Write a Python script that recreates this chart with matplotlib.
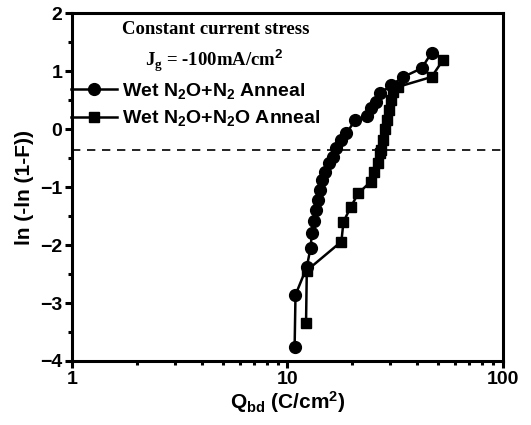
import numpy as np
import matplotlib
matplotlib.use("Agg")
import matplotlib.pyplot as plt
from matplotlib.ticker import LogLocator, FixedLocator, NullFormatter

plt.rcParams["font.family"] = "Liberation Sans"
plt.rcParams["font.weight"] = "bold"
plt.rcParams["mathtext.fontset"] = "custom"
plt.rcParams["mathtext.rm"] = "Liberation Sans:bold"
plt.rcParams["mathtext.it"] = "Liberation Serif:bold"
plt.rcParams["mathtext.default"] = "rm"

# ── Data ────────────────────────────────────────────────────────────────────────
qbd_n2 = [10.8, 10.9, 12.3, 12.8, 13.0, 13.3, 13.5, 13.8, 14.1, 14.5, 15.0,
          15.6, 16.2, 16.8, 17.8, 18.8, 20.6, 23.3, 24.5, 25.8, 27.0, 30.4,
          34.5, 42.0, 46.7]
f_n2 = [-3.75, -2.86, -2.38, -2.05, -1.79, -1.58, -1.40, -1.22, -1.05, -0.88,
        -0.74, -0.59, -0.48, -0.33, -0.19, -0.07, 0.15, 0.22, 0.36, 0.47,
        0.62, 0.76, 0.90, 1.05, 1.32]

qbd_n2o = [12.2, 12.3, 17.8, 18.2, 19.7, 21.3, 24.3, 25.2, 26.4, 26.8, 27.3,
           27.8, 28.4, 29.0, 29.6, 30.2, 31.0, 32.7, 46.7, 52.9]
f_n2o = [-3.35, -2.44, -1.94, -1.60, -1.34, -1.11, -0.91, -0.74, -0.59, -0.42,
         -0.36, -0.19, 0.00, 0.16, 0.33, 0.50, 0.64, 0.73, 0.90, 1.20]

median_level = np.log(-np.log(0.5))

x_ticks = [1, 10, 100]
x_ticklabels = ["1", "10", "100"]
y_ticks = [-4, -3, -2, -1, 0, 1, 2]

fig = plt.figure(figsize=(5.31, 4.25), dpi=100)
ax = fig.add_axes([0.1356, 0.1506, 0.8114, 0.8184])

ax.plot(qbd_n2, f_n2, color="black", lw=1.8, marker="o", ms=8.5,
        label="Wet N$_2$O+N$_2$ Anneal")
ax.plot(qbd_n2o, f_n2o, color="black", lw=1.8, marker="s", ms=7,
        label="Wet N$_2$O+N$_2$O Anneal")
ax.axhline(median_level, color="black", lw=1.2, ls=(0, (5, 4)))

ax.set_xscale("log")
ax.set_xlim(1, 100)
ax.set_ylim(-4, 2)
ax.set_xticks(x_ticks)
ax.set_xticklabels(x_ticklabels)
ax.xaxis.set_minor_locator(LogLocator(base=10, subs=np.arange(2, 10)))
ax.xaxis.set_minor_formatter(NullFormatter())
ax.set_yticks(y_ticks)
ax.yaxis.set_minor_locator(FixedLocator(np.arange(-3.5, 2, 1.0)))

for s in ax.spines.values():
    s.set_linewidth(2.2)
ax.tick_params(which="major", direction="out", length=5, width=2.2,
               labelsize=14, top=False, right=False, pad=2)
ax.tick_params(which="minor", direction="out", length=3, width=2.2,
               top=False, right=False)

ax.set_xlabel("Q$_{bd}$ (C/cm$^2$)", fontsize=15, fontweight="bold", labelpad=1)
ax.set_ylabel("ln (-ln (1-F))", fontsize=15, fontweight="bold", labelpad=4)

ax.text(0.333, 0.952, "Constant current stress", transform=ax.transAxes,
        ha="center", va="center", fontsize=13.5, fontweight="bold",
        family="Liberation Serif")
ax.text(0.33, 0.862, r"J$_{\mathit{g}}$ = -100mA/cm$^{\mathit{2}}$",
        transform=ax.transAxes, ha="center", va="center", fontsize=13.5,
        fontweight="bold", family="Liberation Serif")

leg = ax.legend(loc="upper left", bbox_to_anchor=(-0.002, 0.806), frameon=False,
                fontsize=14, handlelength=2.35, handletextpad=0.25,
                labelspacing=0.4, borderaxespad=0, borderpad=0)

fig.savefig("out.png", dpi=100)
